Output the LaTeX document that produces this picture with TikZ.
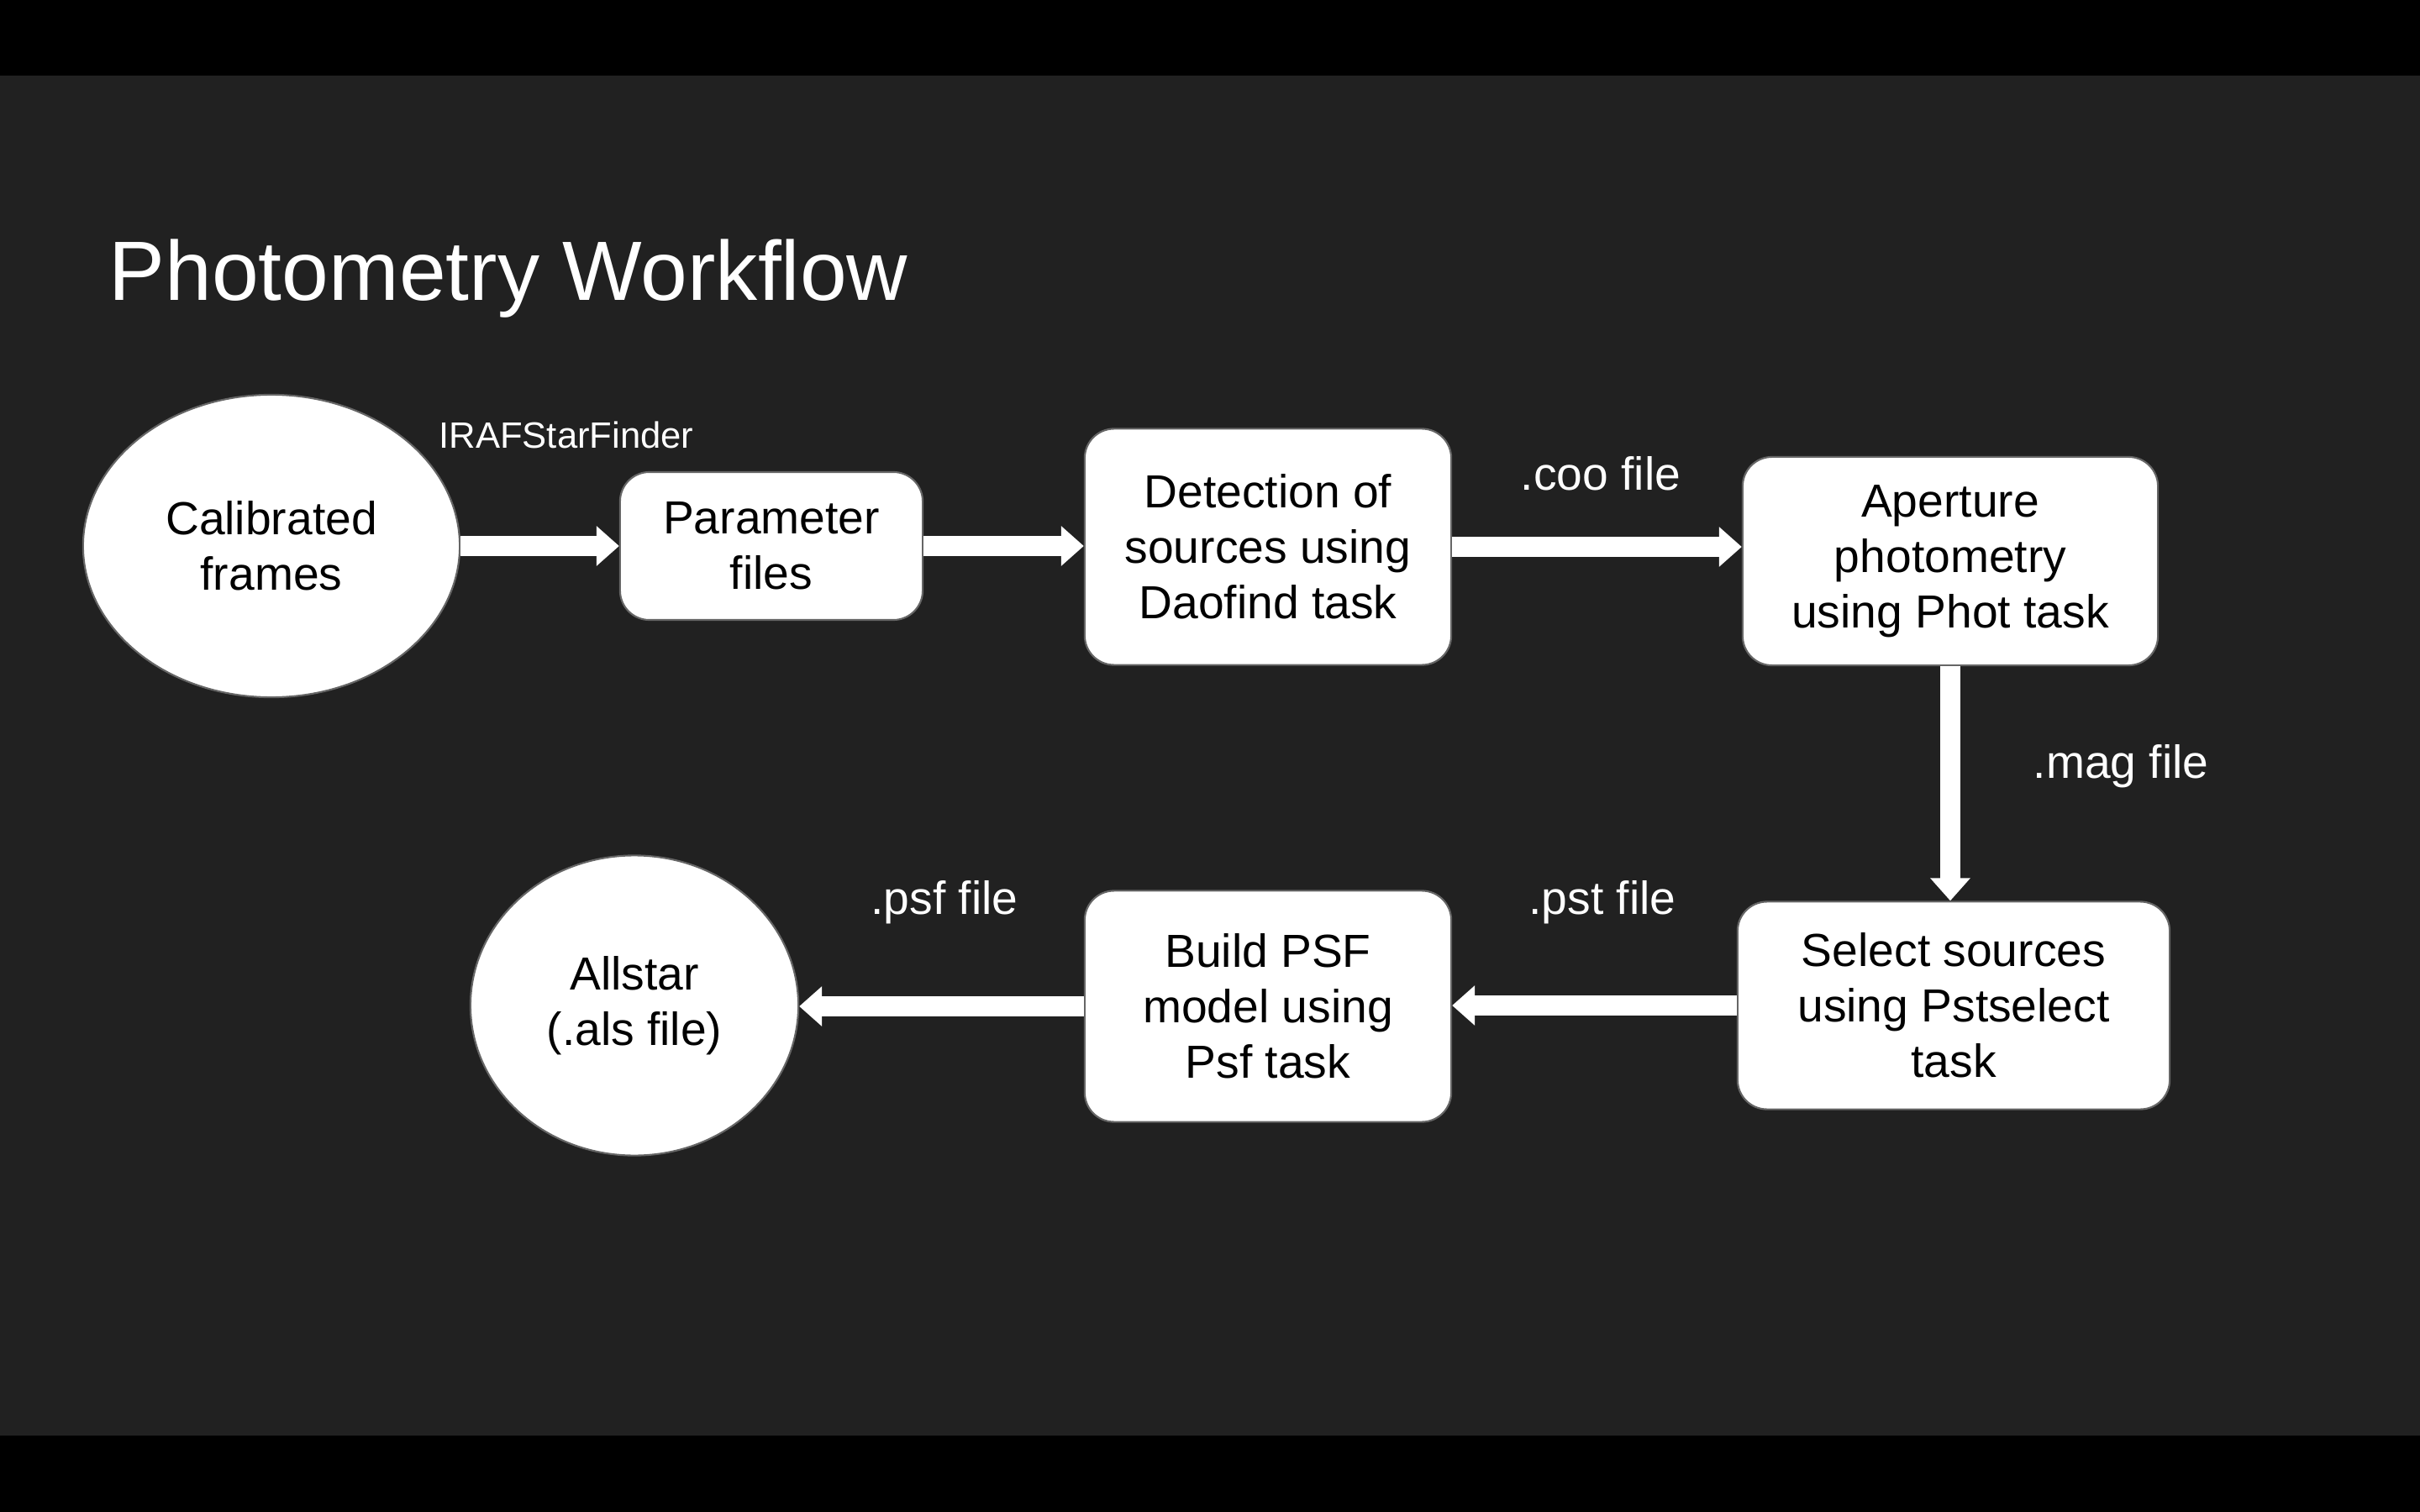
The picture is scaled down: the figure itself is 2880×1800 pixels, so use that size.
\documentclass[tikz,border=0pt]{standalone}
\usepackage{fontspec}
\setmainfont{Liberation Sans}
\usetikzlibrary{arrows.meta,shapes.geometric,positioning}

\definecolor{slidebg}{HTML}{212121}
\newcommand{\bodyfont}{\fontsize{15.7}{18.8}\selectfont}

\tikzset{
  stepbox/.style={draw=black!60, line width=0.6pt, fill=white, rounded corners=0.35cm,
    align=center, inner sep=0pt, font=\bodyfont},
  endblob/.style={ellipse, draw=black!60, line width=0.6pt, fill=white,
    align=center, inner sep=0pt, font=\bodyfont},
  flow/.style={white, line width=0.24cm, -{Triangle[length=0.27cm,width=0.46cm]}},
  filelabel/.style={text=white, font=\bodyfont},
}

\begin{document}
\begin{tikzpicture}[x=0.01cm,y=-0.01cm]
  % Slide background with black bars
  \useasboundingbox (0,0) rectangle (2880,1800);
  \fill[black] (0,0) rectangle (2880,1800);
  \fill[slidebg] (0,90) rectangle (2880,1709);
  % Title
  \node[anchor=base west, text=white, inner sep=0pt, font=\fontsize{28.5}{34}\selectfont]
    (title) at (129,358) {Photometry Workflow};
  % Top row
  \node[endblob, minimum width=4.48cm, minimum height=3.6cm] (calib) at (323,650) {Calibrated\\frames};
  \node[stepbox, minimum width=3.6cm, minimum height=1.76cm] (param) at (918,650) {Parameter\\files};
  \node[stepbox, minimum width=4.36cm, minimum height=2.81cm] (detect) at (1509,651) {Detection of\\sources using\\Daofind task};
  \node[stepbox, minimum width=4.94cm, minimum height=2.48cm] (aper) at (2321,668) {Aperture\\photometry\\using Phot task};
  % Bottom row
  \node[stepbox, minimum width=5.14cm, minimum height=2.47cm] (select) at (2325,1197) {Select sources\\using Pstselect\\task};
  \node[stepbox, minimum width=4.36cm, minimum height=2.75cm] (build) at (1509,1198) {Build PSF\\model using\\Psf task};
  \node[endblob, minimum width=3.9cm, minimum height=3.57cm] (allstar) at (755,1197) {Allstar\\(.als file)};
  % Connectors
  \draw[flow] (calib.east) -- (param.west);
  \draw[flow] (param.east) -- (param.east -| detect.west);
  \draw[flow] (detect.east) -- (detect.east -| aper.west);
  \draw[flow] (aper.south) -- (aper.south |- select.north);
  \draw[flow] (select.west) -- (select.west -| build.east);
  \draw[flow] (build.west) -- (build.west -| allstar.east);
  % File labels
  \node[text=white, font=\fontsize{12.4}{15}\selectfont] (finder) at (674,518) {IRAFStarFinder};
  \node[filelabel] (coo) at (1905,564) {.coo file};
  \node[filelabel] (mag) at (2524,912) {.mag file};
  \node[filelabel] (pst) at (1907,1074) {.pst file};
  \node[filelabel] (psf) at (1124,1074) {.psf file};
\end{tikzpicture}
\end{document}
